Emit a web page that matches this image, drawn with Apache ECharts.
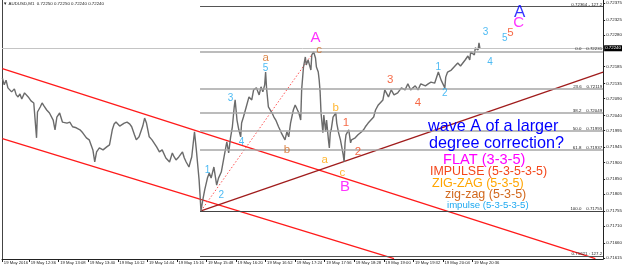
<!DOCTYPE html>
<html><head><meta charset="utf-8">
<script src="https://cdn.jsdelivr.net/npm/echarts@6/dist/echarts.min.js"></script>
<style>html,body{margin:0;padding:0;background:#fff}#c{width:625px;height:270px}</style>
</head><body><div id="c"></div>
<script>
// ---- data (time in minutes of day, 19 May 2016, AUDUSD M1) ----
const priceMinutes = [727,729,731,733,735,737,740,742,744,746,748,751,755,758,761,763,764,765,768,770,772,775,778,782,784,786,789,792,797,800,803,807,811,814,818,821,825,827,829,832,836,840,843,846,848,850,852,854,856,859,862,865,867,870,872,875,879,881,883,886,889,894,897,900,904,908,911,913,915,918,922,924,926,929,931,932,935,937,939,940,941,942,944,946,949,951,953,956,959,961,964,965,967,969,970,972,974,976,978,979,980,981,983,985,986,988,991,994,997,999,1002,1005,1007,1009,1011,1012,1013,1015,1019,1021,1023,1026,1029,1033,1035,1037,1039,1042,1044,1048,1050,1051,1053,1055,1056,1058,1061,1062,1064,1066,1067,1069,1070,1071,1072,1074,1075,1077,1078,1080,1081,1082,1083,1085,1088,1089,1091,1093,1094,1096,1097,1098,1099,1102,1104,1105,1107,1109,1112,1116,1118,1120,1123,1126,1129,1131,1134,1137,1139,1141,1145,1148,1151,1155,1159,1163,1166,1169,1174,1177,1180,1185,1188,1191,1195,1199,1202,1206,1207,1209,1213,1217,1220,1223,1228,1231,1233,1234,1238,1239,1242,1243,1244];
const priceValues = [0.72151,0.72131,0.72145,0.72122,0.72116,0.72110,0.72119,0.72101,0.72095,0.72104,0.72089,0.72107,0.72095,0.72083,0.72077,0.72074,0.71973,0.72050,0.72065,0.72077,0.72068,0.72056,0.72047,0.72026,0.71997,0.72035,0.72047,0.72020,0.72017,0.72020,0.72006,0.72003,0.71997,0.71988,0.71973,0.71967,0.71937,0.71901,0.71931,0.71943,0.71937,0.71946,0.71952,0.71997,0.72014,0.72020,0.72017,0.72008,0.72006,0.72017,0.72020,0.72014,0.72006,0.71982,0.71967,0.71976,0.72008,0.72032,0.72017,0.71976,0.71967,0.71946,0.71931,0.71937,0.71913,0.71901,0.71928,0.71916,0.71907,0.71916,0.71931,0.71913,0.71901,0.71886,0.71907,0.71916,0.71991,0.71937,0.71877,0.71847,0.71803,0.71755,0.71788,0.71817,0.71853,0.71868,0.71853,0.71886,0.71832,0.71853,0.71871,0.71886,0.71916,0.71946,0.71961,0.71928,0.71973,0.72006,0.72065,0.72086,0.72056,0.72026,0.71997,0.71976,0.72017,0.72035,0.72065,0.72095,0.72086,0.72116,0.72122,0.72101,0.72125,0.72110,0.72131,0.72169,0.72122,0.72065,0.72047,0.72035,0.72026,0.72006,0.71988,0.71967,0.71991,0.71976,0.72017,0.72056,0.72071,0.72047,0.72026,0.72116,0.72184,0.72214,0.72190,0.72205,0.72175,0.72220,0.72229,0.72211,0.72184,0.72169,0.72145,0.72110,0.72047,0.71988,0.72041,0.71991,0.72026,0.71967,0.71943,0.71988,0.71997,0.72035,0.72047,0.72017,0.71988,0.71967,0.71952,0.71922,0.71901,0.71958,0.71982,0.71997,0.71958,0.71967,0.71964,0.71973,0.71982,0.71991,0.71997,0.72006,0.72017,0.72026,0.72035,0.72056,0.72071,0.72080,0.72086,0.72116,0.72095,0.72116,0.72101,0.72107,0.72122,0.72116,0.72134,0.72116,0.72128,0.72116,0.72134,0.72128,0.72134,0.72139,0.72136,0.72169,0.72145,0.72122,0.72154,0.72169,0.72175,0.72187,0.72196,0.72187,0.72205,0.72217,0.72205,0.72229,0.72220,0.72241,0.72235,0.72256,0.72240];
const lastPrice = 0.72240;
const headerText = '\u25BC AUDUSD,M1  0.72250 0.72250 0.72240 0.72240';

const priceTicks = [0.72375,0.72325,0.72280,0.72185,0.72135,0.72090,0.72040,0.71995,0.71945,0.71900,0.71850,0.71805,0.71755,0.71710,0.71660,0.71615];
const timeTicks = [727,756,788,820,852,884,916,948,980,1012,1044,1076,1108,1140,1172,1204,1236];
const timeTickLabels = ['19 May 2016','19 May 12:36','19 May 13:08','19 May 13:40','19 May 14:12','19 May 14:44','19 May 15:16','19 May 15:48','19 May 16:20','19 May 16:52','19 May 17:24','19 May 17:56','19 May 18:28','19 May 19:00','19 May 19:32','19 May 20:04','19 May 20:36'];

const fibLevels = ['0.0','23.6','38.2','50.0','61.8','100.0'];
const fibPrices = [0.72231,0.72119,0.72049,0.71993,0.71937,0.71755];
const extLabels = ['0.72364 - 127.2','0.71621 : 127.2'];
const extPrices = [0.72364,0.71621];
const fibStartMinute = 941;

const channelUpper = [[727,0.72179],[1369,0.71613]];
const channelLower = [[727,0.71971],[1151,0.71613]];
const risingLine = [[942,0.71755],[1377.4,0.72169]];
const dottedLine = [[942,0.71755],[1064,0.72229]];

const waveText    = ['A','c','a','5','3','4','1','2','b','a','b','c','B','1','2','3','4','1','2','3','4','5','5','C','A'];
const waveDegree  = ['FLAT','zig-zag','zig-zag','impulse','impulse','impulse','impulse','impulse','zig-zag','ZIG-ZAG','ZIG-ZAG','ZIG-ZAG','FLAT','IMPULSE','IMPULSE','IMPULSE','IMPULSE','impulse','impulse','impulse','impulse','impulse','IMPULSE','FLAT','larger'];
const waveMinutes = [1066,1070,1012,1012,974,986,949,964,1035,1076,1088,1095,1098,1099,1112,1147,1177,1199,1206,1250,1255,1271,1277,1286,1287];
const wavePrices  = [0.72271,0.72235,0.72211,0.72181,0.72092,0.71961,0.71877,0.71803,0.71937,0.71907,0.72062,0.71868,0.71826,0.72017,0.71931,0.72145,0.72077,0.72184,0.72107,0.72289,0.72199,0.72271,0.72286,0.72315,0.72348];

const noteLines = ['wave A of a larger','degree correction?','FLAT (3-3-5)','IMPULSE (5-3-5-3-5)','ZIG-ZAG (5-3-5)','zig-zag (5-3-5)','impulse (5-3-5-3-5)'];

// ---- styles ----
const FONT = 'Liberation Sans, Arial, sans-serif';
const degreeStyle = {
  'FLAT':    {color:'#ff00ff', size:15},
  'IMPULSE': {color:'#f4461a', size:11.5},
  'ZIG-ZAG': {color:'#ffa500', size:11.5},
  'zig-zag': {color:'#d2691e', size:11.5},
  'impulse': {color:'#1fa9f0', size:10},
  'larger':  {color:'#0000ff', size:17}
};
const noteStyle = [
  {x:428, y:127, color:'#0000ff', size:16.2},
  {x:429, y:144, color:'#0000ff', size:16.2},
  {x:443, y:160, color:'#ff00ff', size:14.6},
  {x:430, y:172, color:'#f4461a', size:12.4},
  {x:432, y:184, color:'#ffa500', size:12.5},
  {x:445, y:195, color:'#d2691e', size:12.5},
  {x:447, y:205, color:'#1fa9f0', size:9.6}
];

const xMin = 726.6, xMax = 1377.4;
const yMin = 0.716118, yMax = 0.723839;

function hhmm(v){ const h=Math.floor(v/60), m=Math.round(v-h*60); return String(h).padStart(2,'0')+':'+String(m).padStart(2,'0'); }

const chart = echarts.init(document.getElementById('c'), null, {renderer:'canvas'});

const fibMarks = fibPrices.map((p,i)=>[
  {coord:[fibStartMinute,p], lineStyle:{color: i<5?'#a6a6a6':'#444', width: i<5?1.6:1, type:'solid'},
   label:{formatter: fibLevels[i]+'    '+p.toFixed(5)}},
  {coord:[xMax,p]}
]).concat(extPrices.map((p,i)=>[
  {coord:[fibStartMinute,p], lineStyle:{color:'#555', width:1, type:'solid'}, label:{formatter: extLabels[i]}},
  {coord:[xMax,p]}
]));

function lineSeries(data, color, width, type){
  return {type:'line', data:data, showSymbol:false, symbol:'none', silent:true, z:3, clip:true,
    lineStyle:{color:color, width:width, type:type||'solid'}};
}

chart.setOption({
  animation:false,
  backgroundColor:'#ffffff',
  textStyle:{fontFamily:FONT},
  grid:{left:2, right:19, top:0, bottom:11, containLabel:false},
  xAxis:{type:'value', min:xMin, max:xMax,
    axisLine:{show:true, lineStyle:{color:'#222', width:1}},
    splitLine:{show:false},
    axisTick:{show:true, customValues:timeTicks, length:3, lineStyle:{color:'#222'}},
    axisLabel:{show:true, customValues:timeTicks, fontSize:4.2, color:'#222', align:'left', margin:2, padding:[0,0,0,1.5], fontFamily:FONT, hideOverlap:false,
      formatter:(v)=>{ const i=timeTicks.indexOf(v); return i>=0?timeTickLabels[i]:'19 May '+hhmm(v);} }
  },
  yAxis:[
    {type:'value', min:yMin, max:yMax, position:'right',
      axisLine:{show:true, lineStyle:{color:'#222', width:1}},
      splitLine:{show:false},
      axisTick:{show:true, customValues:priceTicks, length:2, lineStyle:{color:'#222'}},
      axisLabel:{show:true, customValues:priceTicks, fontSize:4.4, color:'#222', margin:3, fontFamily:FONT, formatter:(v)=>v.toFixed(5)}
    },
    {type:'value', min:yMin, max:yMax, position:'left',
      axisLine:{show:true, lineStyle:{color:'#444', width:1}},
      axisTick:{show:false}, axisLabel:{show:false}, splitLine:{show:false}}
  ],
  graphic:[
    {type:'text', left:3, top:2, style:{text:headerText, fill:'#222', font:'4.4px '+FONT}}
  ].concat(noteLines.map((t,i)=>({type:'text', x:noteStyle[i].x, y:noteStyle[i].y,
      style:{text:t, fill:noteStyle[i].color, font:noteStyle[i].size+'px '+FONT, verticalAlign:'middle', textVerticalAlign:'middle'}, z:10}))),
  series:[
    {type:'line', name:'fib', data:[], markLine:{silent:true, symbol:['none','none'], animation:false,
      label:{show:true, position:'insideEndTop', distance:[1,0], fontSize:4.4, color:'#222', fontFamily:FONT},
      data:fibMarks}},
    lineSeries(channelUpper, '#ff1a1a', 1.3),
    lineSeries(channelLower, '#ff1a1a', 1.3),
    lineSeries(risingLine, '#a01c1c', 1.3),
    lineSeries(dottedLine, '#ff5050', 1, [1.5,2]),
    {type:'line', name:'AUDUSD', data:priceMinutes.map((m,i)=>[m,priceValues[i]]), showSymbol:false, symbol:'none', z:4,
      lineStyle:{color:'#6b6b6b', width:1.4},
      markLine:{silent:true, symbol:['none','none'], animation:false,
        lineStyle:{color:'#c4c4c4', width:1, type:'solid'},
        label:{show:true, position:'end', distance:1, formatter:lastPrice.toFixed(5), backgroundColor:'#000', color:'#fff', fontSize:4.4, padding:[1,1,1,1], fontFamily:FONT},
        data:[[{coord:[xMin,lastPrice]},{coord:[xMax,lastPrice]}]]}
    },
    {type:'scatter', name:'waves', symbolSize:0, z:6, silent:true,
      data:waveText.map((t,i)=>{ const s=degreeStyle[waveDegree[i]]; return {name:t, value:[waveMinutes[i], wavePrices[i]],
        label:{show:true, position:'inside', formatter:t, color:s.color, fontSize:s.size, fontFamily:FONT}}; })
    }
  ]
});
</script></body></html>
